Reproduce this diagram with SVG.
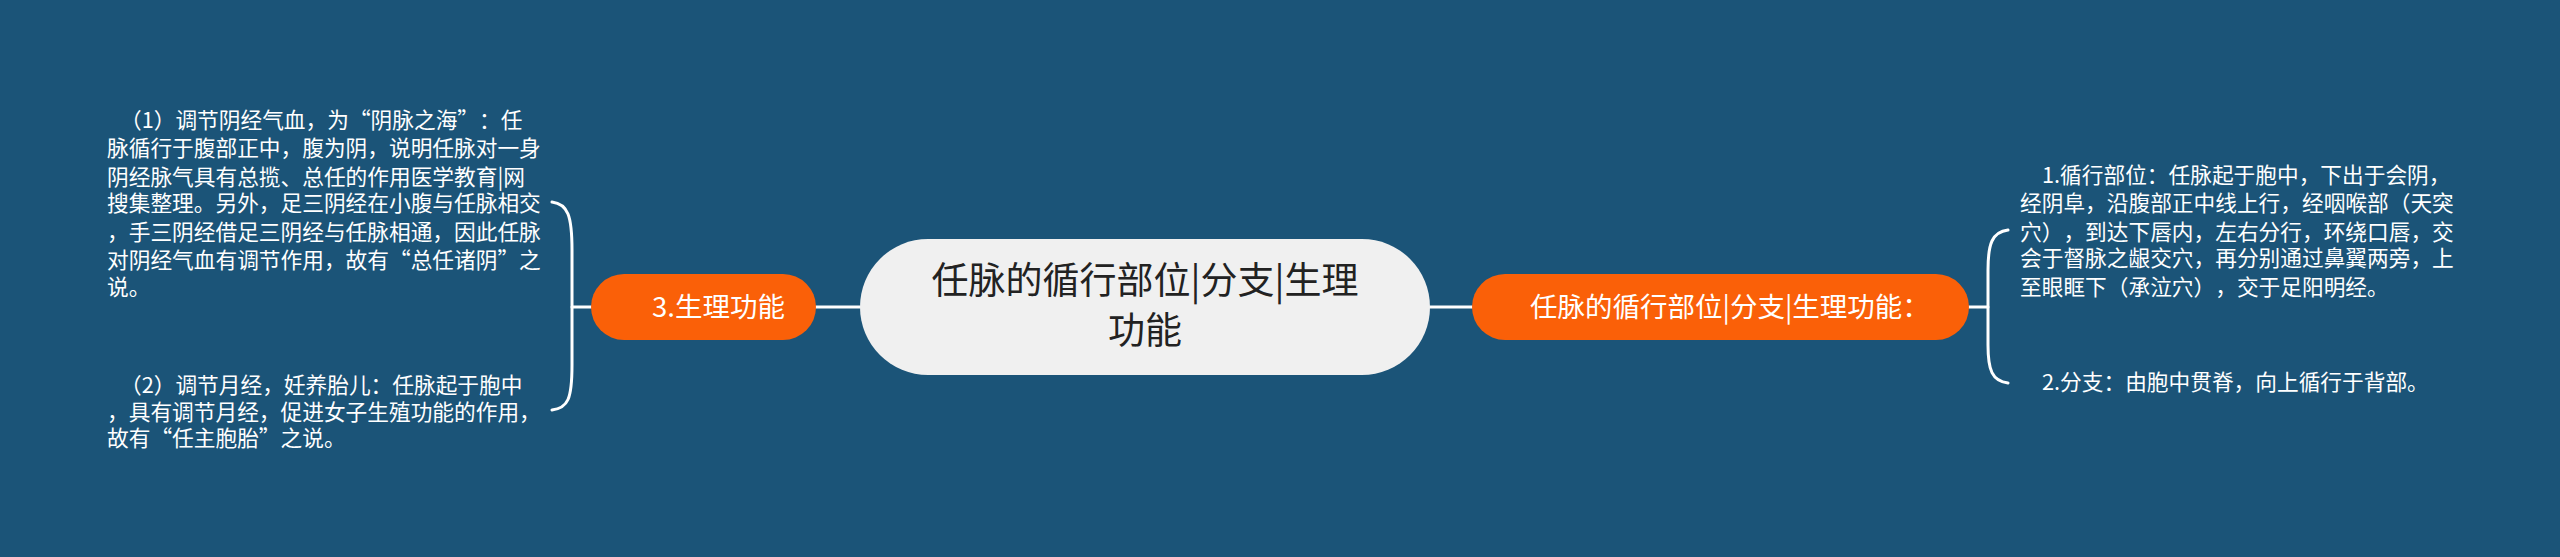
<svg xmlns="http://www.w3.org/2000/svg" width="2560" height="557" viewBox="0 0 2560 557">
<style>
.bg{fill:#1b5478}
.conn{fill:none;stroke:#ffffff;stroke-width:3;stroke-linecap:round}
.orange{fill:#fa6008}
.center{fill:#f0f0f0}
.t{font-family:"Noto Sans CJK SC","Noto Sans",sans-serif;text-spacing-trim:space-all}
.leaf{font-size:21.7px;fill:#ffffff}
.sub{font-size:27.5px;fill:#ffffff}
.main{font-size:37px;fill:#222222}
</style>
<rect class="bg" x="0" y="0" width="2560" height="557"/>
<g id="connectors">
<path class="conn" d="M816,307 L860,307"/>
<path class="conn" d="M1430,307 L1472,307"/>
<path class="conn" d="M591,307 L572,307"/>
<path class="conn" d="M552,202 C568,204 572,216 572,250 L572,365 C572,399 568,408 552,410"/>
<path class="conn" d="M1969,307 L1988,307"/>
<path class="conn" d="M2008,230 C1992,232 1988,244 1988,270 L1988,345 C1988,370 1992,381 2008,383"/>
</g>
<g id="center">
<rect class="center" x="860" y="239" width="570" height="136" rx="68"/>
<text class="t main" x="1145" y="294" text-anchor="middle">任脉的循行部位|分支|生理</text>
<text class="t main" x="1145" y="344" text-anchor="middle">功能</text>
</g>
<g id="n-func">
<rect class="orange" x="591" y="274" width="225" height="66" rx="33"/>
<text class="t sub" x="652" y="317">3.生理功能</text>
</g>
<g id="n-right">
<rect class="orange" x="1472" y="274" width="497" height="66" rx="33"/>
<text class="t sub" x="1530" y="317">任脉的循行部位|分支|生理功能：</text>
</g>
<g id="leaf-l1" class="t leaf">
<text x="120" y="128">（1）调节阴经气血，为“阴脉之海”：任</text>
<text x="107" y="156">脉循行于腹部正中，腹为阴，说明任脉对一身</text>
<text x="107" y="185">阴经脉气具有总揽、总任的作用医学教育|网</text>
<text x="107" y="211">搜集整理。另外，足三阴经在小腹与任脉相交</text>
<text x="107" y="240">，手三阴经借足三阴经与任脉相通，因此任脉</text>
<text x="107" y="268">对阴经气血有调节作用，故有“总任诸阴”之</text>
<text x="107" y="295">说。</text>
</g>
<g id="leaf-l2" class="t leaf">
<text x="120" y="393">（2）调节月经，妊养胎儿：任脉起于胞中</text>
<text x="107" y="420">，具有调节月经，促进女子生殖功能的作用，</text>
<text x="107" y="446">故有“任主胞胎”之说。</text>
</g>
<g id="leaf-r1" class="t leaf">
<text x="2042" y="183">1.循行部位：任脉起于胞中，下出于会阴，</text>
<text x="2020" y="211">经阴阜，沿腹部正中线上行，经咽喉部（天突</text>
<text x="2020" y="240">穴），到达下唇内，左右分行，环绕口唇，交</text>
<text x="2020" y="266">会于督脉之龈交穴，再分别通过鼻翼两旁，上</text>
<text x="2020" y="295">至眼眶下（承泣穴），交于足阳明经。</text>
</g>
<g id="leaf-r2" class="t leaf">
<text x="2042" y="390">2.分支：由胞中贯脊，向上循行于背部。</text>
</g>
</svg>
